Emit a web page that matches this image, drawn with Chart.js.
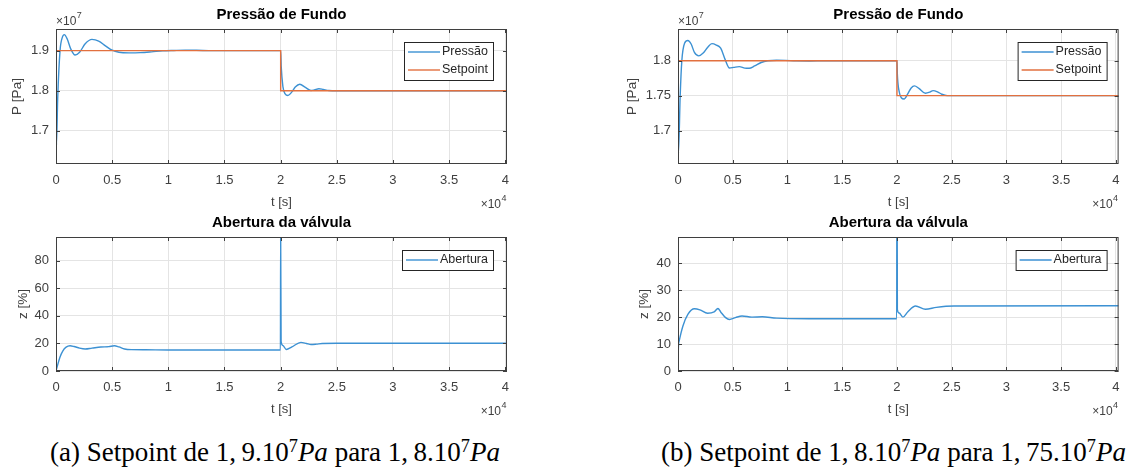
<!DOCTYPE html>
<html>
<head>
<meta charset="utf-8">
<script src="https://cdn.jsdelivr.net/npm/chart.js@4.4.1/dist/chart.umd.min.js"></script>
<style>
  body { margin: 0; background: #fff; }
  #fig { position: relative; width: 1128px; height: 469px; overflow: hidden; }
  .painel { position: absolute; }
  .legenda {
    position: absolute; top: 437px; line-height: 30px; text-align: center; white-space: nowrap;
    font-family: "Liberation Serif", "Times New Roman", serif; font-size: 27px; color: #000;
  }
  .legenda sup { font-size: 0.68em; position: relative; top: -0.5em; vertical-align: baseline; }
  .legenda i { font-style: italic; }
</style>
</head>
<body>
<div id="fig">
  <div class="painel" style="left:0;top:0"><canvas id="pA" width="564" height="212"></canvas></div>
  <div class="painel" style="left:0;top:212px"><canvas id="zA" width="564" height="208"></canvas></div>
  <div class="painel" style="left:564px;top:0"><canvas id="pB" width="564" height="212"></canvas></div>
  <div class="painel" style="left:564px;top:212px"><canvas id="zB" width="564" height="208"></canvas></div>
  <div class="legenda" style="left:0;width:550px">(a) Setpoint de 1,&#8201;9.10<sup>7</sup><i>Pa</i> para 1,&#8201;8.10<sup>7</sup><i>Pa</i></div>
  <div class="legenda" style="left:618px;width:551px">(b) Setpoint de 1,&#8201;8.10<sup>7</sup><i>Pa</i> para 1,&#8201;75.10<sup>7</sup><i>Pa</i></div>
</div>
<script>
// tempo em 10^4 s, pressao em 10^7 Pa, abertura em %

// caso (a): setpoint 1.9 -> 1.8
const tPressaoA = [0, 0.004, 0.015, 0.036, 0.055, 0.074, 0.1, 0.13, 0.17, 0.21, 0.26, 0.32, 0.38, 0.44, 0.5, 0.56, 0.65, 0.75, 0.85, 0.95, 1.05, 1.15, 1.25, 1.4, 2.0, 2.005, 2.02, 2.04, 2.065, 2.1, 2.13, 2.17, 2.22, 2.27, 2.3, 2.34, 2.38, 2.43, 2.5, 4.015];
const pressaoA  = [1.80, 1.665, 1.78, 1.90, 1.932, 1.94, 1.929, 1.905, 1.889, 1.896, 1.917, 1.928, 1.924, 1.912, 1.901, 1.896, 1.8945, 1.895, 1.897, 1.8995, 1.9005, 1.9012, 1.9008, 1.9, 1.9, 1.86, 1.81, 1.792, 1.788, 1.797, 1.809, 1.816, 1.808, 1.8005, 1.802, 1.805, 1.803, 1.8005, 1.8, 1.8];
const tSetpointA = [0, 2, 2, 4.015];
const setpointA  = [1.9, 1.9, 1.8, 1.8];
const tAberturaA = [0, 0.01, 0.035, 0.06, 0.09, 0.125, 0.16, 0.21, 0.26, 0.32, 0.4, 0.47, 0.52, 0.56, 0.61, 0.67, 0.8, 1.0, 1.4, 1.998, 2.0, 2.004, 2.02, 2.05, 2.1, 2.18, 2.23, 2.27, 2.32, 2.37, 2.5, 4.015];
const aberturaA  = [0, 3, 10, 14.5, 17.3, 18.3, 17.8, 16.6, 16.0, 16.6, 17.4, 17.7, 18.3, 17.5, 16.0, 15.5, 15.4, 15.3, 15.3, 15.3, 100, 21.5, 18.5, 15.6, 17.5, 20.8, 20.0, 19.2, 19.5, 20.0, 20.1, 20.1];

// caso (b): setpoint 1.8 -> 1.75
const tPressaoB = [0, 0.004, 0.02, 0.035, 0.06, 0.09, 0.12, 0.15, 0.19, 0.23, 0.27, 0.31, 0.35, 0.39, 0.43, 0.47, 0.51, 0.56, 0.61, 0.65, 0.7, 0.76, 0.82, 0.9, 0.98, 1.08, 1.2, 1.35, 2.0, 2.004, 2.02, 2.04, 2.065, 2.1, 2.13, 2.16, 2.2, 2.26, 2.3, 2.33, 2.37, 2.41, 2.46, 4.025];
const pressaoB  = [1.70, 1.667, 1.75, 1.80, 1.825, 1.829, 1.824, 1.812, 1.807, 1.811, 1.819, 1.8245, 1.8225, 1.818, 1.802, 1.7895, 1.7905, 1.7915, 1.7895, 1.7892, 1.7925, 1.7975, 1.8, 1.8007, 1.8005, 1.7998, 1.7997, 1.8, 1.8, 1.78, 1.756, 1.747, 1.7452, 1.753, 1.761, 1.764, 1.7605, 1.7535, 1.755, 1.7572, 1.7555, 1.752, 1.75, 1.75];
const tSetpointB = [0, 2, 2, 4.025];
const setpointB  = [1.8, 1.8, 1.75, 1.75];
const tAberturaB = [0, 0.004, 0.01, 0.045, 0.09, 0.15, 0.2, 0.27, 0.33, 0.365, 0.39, 0.435, 0.47, 0.525, 0.585, 0.675, 0.77, 0.9, 1.2, 1.998, 2.0, 2.004, 2.02, 2.055, 2.1, 2.17, 2.26, 2.36, 2.52, 4.025];
const aberturaB  = [0, 9, 11, 16.7, 21, 23.1, 22.7, 21.4, 21.9, 23.2, 21.9, 19.8, 19.1, 19.8, 20.4, 20.0, 20.1, 19.6, 19.4, 19.4, 100, 22.8, 21.5, 20.0, 22.0, 24.1, 22.9, 23.6, 24.1, 24.2];

// ticks
const ticksT  = [0, 0.5, 1, 1.5, 2, 2.5, 3, 3.5, 4];
const ticksPA = [1.7, 1.8, 1.9];
const ticksPB = [1.7, 1.75, 1.8];
const ticksZA = [0, 20, 40, 60, 80];
const ticksZB = [0, 10, 20, 30, 40];

const AZUL = '#3c91d3';
const LARANJA = '#e2703f';
const FONTE = '"Liberation Sans", Arial, sans-serif';
const COR_TXT = '#404040';

Chart.defaults.font.family = FONTE;

function xy(ts, vs) {
  return ts.map((t, i) => ({ x: t, y: vs[i] }));
}

function curva(label, ts, vs, cor, ordem) {
  return {
    label: label, data: xy(ts, vs), borderColor: cor, backgroundColor: cor,
    borderWidth: 1.4, pointRadius: 0, order: ordem,
    cubicInterpolationMode: 'monotone', tension: 0.4
  };
}

function degrau(label, ts, vs, cor, ordem) {
  return {
    label: label, data: xy(ts, vs), borderColor: cor, backgroundColor: cor,
    borderWidth: 1.4, pointRadius: 0, order: ordem, tension: 0
  };
}

const fmt = v => String(+v.toFixed(3));

// desenha "x10" com expoente; alinhado a esquerda ou a direita de x
function multiplicador(ctx, exp, x, y, direita) {
  ctx.font = '12px ' + FONTE;
  const wb = ctx.measureText('\u00d710').width;
  ctx.font = '9px ' + FONTE;
  const we = ctx.measureText(exp).width;
  const x0 = direita ? x - wb - we - 1 : x;
  ctx.font = '12px ' + FONTE;
  ctx.fillText('\u00d710', x0, y);
  ctx.font = '9px ' + FONTE;
  ctx.fillText(exp, x0 + wb + 0.5, y - 7);
}

// caixa do eixo, marcas internas, titulo, expoentes e legenda estilo matlab
const moldura = {
  id: 'moldura',
  afterDraw(chart, args, o) {
    const ctx = chart.ctx;
    const a = chart.chartArea;
    const xs = chart.scales.x, ys = chart.scales.y;
    ctx.save();

    ctx.strokeStyle = '#3f3f3f';
    ctx.lineWidth = 1;
    ctx.beginPath();
    xs.ticks.forEach(t => {
      const p = Math.round(xs.getPixelForValue(t.value)) + 0.5;
      ctx.moveTo(p, a.bottom); ctx.lineTo(p, a.bottom - 4);
      ctx.moveTo(p, a.top); ctx.lineTo(p, a.top + 4);
    });
    ys.ticks.forEach(t => {
      const p = Math.round(ys.getPixelForValue(t.value)) + 0.5;
      ctx.moveTo(a.left, p); ctx.lineTo(a.left + 4, p);
      ctx.moveTo(a.right, p); ctx.lineTo(a.right - 4, p);
    });
    ctx.stroke();
    ctx.strokeRect(a.left + 0.5, a.top + 0.5, a.right - a.left - 1, a.bottom - a.top - 1);

    // titulo
    ctx.fillStyle = '#000';
    ctx.font = 'bold 15px ' + FONTE;
    ctx.textAlign = 'center';
    ctx.textBaseline = 'middle';
    ctx.fillText(o.titulo, (a.left + a.right) / 2, a.top - 14);

    // multiplicadores dos eixos
    ctx.fillStyle = COR_TXT;
    ctx.textAlign = 'left';
    ctx.textBaseline = 'alphabetic';
    if (o.expY) multiplicador(ctx, o.expY, a.left, a.top - 4, false);
    multiplicador(ctx, o.expX, a.right, a.bottom + 44, true);

    // legenda dentro do eixo
    const ds = chart.data.datasets;
    ctx.font = '12.5px ' + FONTE;
    const wt = Math.max(...ds.map(d => ctx.measureText(d.label).width));
    const bw = Math.round(38 + wt + 5);
    const bh = 2 + 18 * ds.length;
    const bx = a.right - o.legDir - bw;
    const by = a.top + 13;
    ctx.fillStyle = '#fff';
    ctx.fillRect(bx, by, bw, bh);
    ctx.strokeStyle = '#262626';
    ctx.strokeRect(bx + 0.5, by + 0.5, bw, bh);
    ds.forEach((d, i) => {
      const cy = by + 10 + 18 * i;
      ctx.strokeStyle = d.borderColor;
      ctx.lineWidth = 1.4;
      ctx.beginPath();
      ctx.moveTo(bx + 4, cy); ctx.lineTo(bx + 36, cy);
      ctx.stroke();
      ctx.fillStyle = '#262626';
      ctx.textBaseline = 'middle';
      ctx.fillText(d.label, bx + 38, cy);
    });
    ctx.restore();
  }
};

function painel(id, c) {
  const canvas = document.getElementById(id);
  const W = canvas.width, H = canvas.height;
  const a = c.area;
  const padEsq = c.yTituloX - 7.8;
  const fonte = { size: 13, family: FONTE };
  return new Chart(canvas, {
    type: 'line',
    data: { datasets: c.datasets },
    options: {
      responsive: false,
      animation: false,
      events: [],
      layout: { padding: { left: padEsq, top: a.top, right: W - a.right, bottom: 0 } },
      plugins: {
        legend: { display: false },
        tooltip: { enabled: false },
        moldura: { titulo: c.titulo, expY: c.expY, expX: '4', legDir: c.legDir }
      },
      scales: {
        x: {
          type: 'linear', min: 0, max: c.xMax,
          afterBuildTicks: s => { s.ticks = ticksT.map(v => ({ value: v })); },
          afterFit: s => { s.height = H - a.bottom; },
          grid: { color: '#e4e4e4', drawTicks: false },
          border: { display: false },
          ticks: { padding: 8.5, maxRotation: 0, autoSkip: false, font: fonte, color: COR_TXT, callback: fmt },
          title: { display: true, text: 't [s]', font: fonte, color: COR_TXT, padding: { top: 0, bottom: H - c.xTituloY - 7.8 } }
        },
        y: {
          type: 'linear', min: c.yMin, max: c.yMax,
          afterBuildTicks: s => { s.ticks = c.yTicks.map(v => ({ value: v })); },
          afterFit: s => { s.width = a.left - padEsq; },
          grid: { color: '#e4e4e4', drawTicks: false },
          border: { display: false },
          ticks: { padding: 7, font: fonte, color: COR_TXT, callback: fmt },
          title: { display: true, text: c.yTitulo, font: { size: 13.5, family: FONTE }, color: COR_TXT, padding: 0 }
        }
      }
    },
    plugins: [moldura]
  });
}

painel('pA', {
  titulo: 'Press\u00e3o de Fundo', yTitulo: 'P [Pa]', expY: '7', legDir: 14,
  area: { left: 56, top: 29, right: 507, bottom: 164 },
  yTituloX: 17, xTituloY: 202,
  xMax: 4.015, yMin: 1.617, yMax: 1.954, yTicks: ticksPA,
  datasets: [
    curva('Press\u00e3o', tPressaoA, pressaoA, AZUL, 1),
    degrau('Setpoint', tSetpointA, setpointA, LARANJA, 0)
  ]
});

painel('zA', {
  titulo: 'Abertura da v\u00e1lvula', yTitulo: 'z [%]', expY: null, legDir: 14,
  area: { left: 56, top: 25, right: 507, bottom: 159 },
  yTituloX: 23, xTituloY: 197,
  xMax: 4.015, yMin: 0, yMax: 97.3, yTicks: ticksZA,
  datasets: [curva('Abertura', tAberturaA, aberturaA, AZUL, 0)]
});

painel('pB', {
  titulo: 'Press\u00e3o de Fundo', yTitulo: 'P [Pa]', expY: '7', legDir: 12,
  area: { left: 114, top: 29, right: 563, bottom: 164 },
  yTituloX: 68, xTituloY: 202,
  xMax: 4.025, yMin: 1.652, yMax: 1.8455, yTicks: ticksPB,
  datasets: [
    curva('Press\u00e3o', tPressaoB, pressaoB, AZUL, 1),
    degrau('Setpoint', tSetpointB, setpointB, LARANJA, 0)
  ]
});

painel('zB', {
  titulo: 'Abertura da v\u00e1lvula', yTitulo: 'z [%]', expY: null, legDir: 12,
  area: { left: 114, top: 25, right: 563, bottom: 159 },
  yTituloX: 80, xTituloY: 197,
  xMax: 4.025, yMin: 0, yMax: 49.7, yTicks: ticksZB,
  datasets: [curva('Abertura', tAberturaB, aberturaB, AZUL, 0)]
});
</script>
</body>
</html>
